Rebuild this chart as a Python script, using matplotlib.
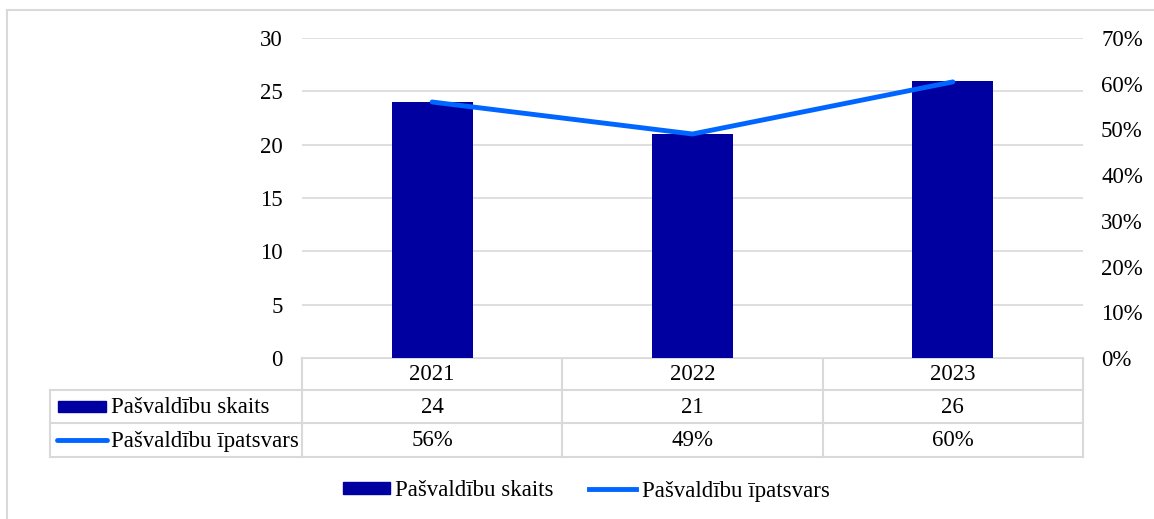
import matplotlib.pyplot as plt
import matplotlib.lines as mlines
import matplotlib.patches as mpatches
from matplotlib.ticker import PercentFormatter

YEARS = ["2021", "2022", "2023"]
COUNT = [24, 21, 26]
SHARE = [0.56, 0.49, 0.604]

BAR_LABEL = "Pašvaldību skaits"
LINE_LABEL = "Pašvaldību īpatsvars"

BAR_COLOR = "#0000A0"
LINE_COLOR = "#0066FF"
GRID = "#D9D9D9"
FS = 16.5

plt.rcParams["font.family"] = ["Liberation Serif", "DejaVu Serif"]
plt.rcParams["font.size"] = FS

W, H = 1154, 519
fig = plt.figure(figsize=(W / 100, H / 100), dpi=100)

# plot area in pixels
x0, x1, ytop, ybot = 302, 1083, 38, 358
ax = fig.add_axes([x0 / W, 1 - ybot / H, (x1 - x0) / W, (ybot - ytop) / H])
x = range(len(YEARS))
ax.bar(x, COUNT, width=0.31, color=BAR_COLOR, zorder=3)
ax.set_xlim(-0.5, len(YEARS) - 0.5)
ax.set_ylim(0, 30)
ax.set_yticks(range(0, 31, 5))
ax.set_xticks([])
ax.grid(axis="y", color=GRID, lw=1.2, zorder=0)
ax.spines[:].set_visible(False)
ax.tick_params(axis="y", length=0, pad=14, labelsize=FS)

ax2 = ax.twinx()
ax2.plot(x, SHARE, color=LINE_COLOR, lw=3.5, solid_capstyle="round", zorder=4)
ax2.set_ylim(0, 0.7)
ax2.set_yticks([i / 10 for i in range(8)])
ax2.yaxis.set_major_formatter(PercentFormatter(1.0, decimals=0))
ax2.spines[:].set_visible(False)
ax2.tick_params(axis="y", length=0, pad=13, labelsize=FS)

# overlay in pixel coords for the data table, legend and frame
ov = fig.add_axes([0, 0, 1, 1], zorder=-1)
ov.set_xlim(0, W)
ov.set_ylim(H, 0)
ov.axis("off")

kw = dict(color=GRID, lw=1.5)
ov.plot([7, W], [10, 10], **kw)
ov.plot([7, 7], [10, H], **kw)

rows = [358, 390, 423, 457]
lab_x = 50
col_w = (x1 - x0) / len(YEARS)
ov.plot([x0, x1], [rows[0], rows[0]], **kw)
for r in rows[1:]:
    ov.plot([lab_x, x1], [r, r], **kw)
ov.plot([lab_x, lab_x], [rows[1], rows[3]], **kw)
for i in range(len(YEARS) + 1):
    xv = x0 + i * col_w
    ov.plot([xv, xv], [rows[0], rows[3]], **kw)

for i, yr in enumerate(YEARS):
    cx = x0 + (i + 0.5) * col_w
    ov.text(cx, (rows[0] + rows[1]) / 2 + 1, yr, ha="center", va="center")
    ov.text(cx, (rows[1] + rows[2]) / 2 + 1, str(COUNT[i]), ha="center", va="center")
    ov.text(cx, (rows[2] + rows[3]) / 2 + 1, f"{SHARE[i]:.0%}", ha="center", va="center")

# row keys
ov.add_patch(mpatches.Rectangle((58, 401), 48, 11, color=BAR_COLOR))
ov.text(111, (rows[1] + rows[2]) / 2 + 1, BAR_LABEL, va="center")
ov.plot([57, 107], [440, 440], color=LINE_COLOR, lw=3.5, solid_capstyle="round")
ov.text(111, (rows[2] + rows[3]) / 2 + 1, LINE_LABEL, va="center")

# legend
handles = [mpatches.Patch(color=BAR_COLOR, label=BAR_LABEL),
           mlines.Line2D([], [], color=LINE_COLOR, lw=3.5, label=LINE_LABEL)]
fig.legend(handles=handles, loc="center", bbox_to_anchor=(0.508, 1 - 491 / H),
           ncol=2, frameon=False, fontsize=FS, handlelength=2.05,
           handleheight=0.45, columnspacing=1.55, handletextpad=0.25)

fig.savefig("out.png", dpi=100, facecolor="white")
